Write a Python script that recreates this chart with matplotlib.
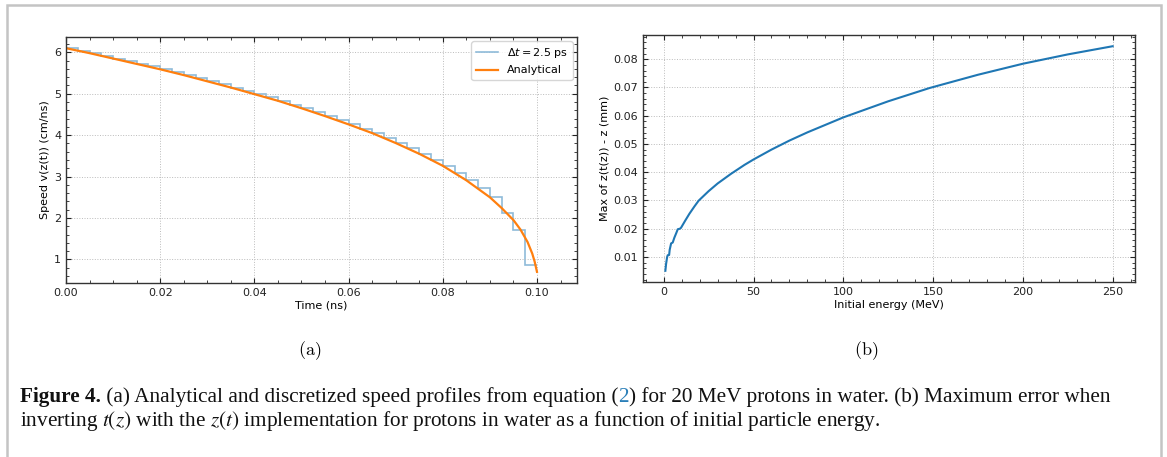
import numpy as np
import matplotlib
matplotlib.use("Agg")
from matplotlib import pyplot as plt
from matplotlib.patches import Rectangle

# (a) speed profile of 20 MeV protons in water
dt = 0.0025  # ns, 2.5 ps time step
step_speed = [6.10, 6.04, 5.98, 5.92, 5.85, 5.79, 5.72, 5.66, 5.59, 5.52,
              5.45, 5.38, 5.30, 5.23, 5.15, 5.07, 4.99, 4.91, 4.83, 4.74,
              4.65, 4.56, 4.46, 4.36, 4.26, 4.16, 4.05, 3.93, 3.81, 3.68,
              3.55, 3.41, 3.26, 3.09, 2.91, 2.72, 2.50, 2.12, 1.72, 0.86]
ana_time = [0.0, 0.005, 0.01, 0.015, 0.02, 0.025, 0.03, 0.035, 0.04, 0.045,
            0.05, 0.055, 0.06, 0.065, 0.07, 0.075, 0.08, 0.085, 0.09, 0.0925,
            0.095, 0.0965, 0.098, 0.099, 0.0995, 0.1]
ana_speed = [6.10, 5.98, 5.85, 5.72, 5.59, 5.45, 5.30, 5.15, 4.99, 4.83,
             4.65, 4.46, 4.26, 4.05, 3.81, 3.55, 3.26, 2.91, 2.50, 2.24,
             1.95, 1.72, 1.42, 1.14, 0.95, 0.70]

# (b) max inversion error vs initial energy
energy = [0.9, 1.3, 1.9, 2.2, 3.0, 3.3, 4.1, 5.0, 5.9, 7.0, 7.8, 9.0, 9.6,
          12, 14.3, 17, 19.4, 25, 30, 37.4, 45, 50, 60, 70, 80, 100, 125,
          148, 175, 200, 225, 250]
max_err = [0.0051, 0.0075, 0.0100, 0.0106, 0.0107, 0.0125, 0.0148, 0.0151,
           0.0168, 0.0185, 0.0198, 0.0200, 0.0203, 0.0229, 0.0253, 0.0278,
           0.0299, 0.0333, 0.0360, 0.0394, 0.0426, 0.0445, 0.0480, 0.0512,
           0.0541, 0.0594, 0.0651, 0.0698, 0.0745, 0.0784, 0.0817, 0.0846]

plt.rcParams["font.family"] = "DejaVu Sans"
plt.rcParams["font.size"] = 8

W, H = 1167, 457
fig = plt.figure(figsize=(W / 100, H / 100), dpi=100)

# light gray frame round the figure
fig.patches.append(Rectangle((7 / W, -0.05), (1161 - 7) / W, 1.05 - 5 / H,
                             transform=fig.transFigure, fill=False,
                             edgecolor="#c4c4c4", lw=1.8))


def style(ax):
    ax.minorticks_on()
    ax.tick_params(which="both", direction="in", top=True, right=True,
                   labelsize=8, colors="#222222")
    ax.tick_params(which="major", length=3.5, width=0.8)
    ax.tick_params(which="minor", length=2, width=0.6)
    ax.grid(True, which="major", ls=":", lw=0.7, color="#bbbbbb")
    for s in ax.spines.values():
        s.set_linewidth(1.0)
        s.set_color("#333333")


ax1 = fig.add_axes([66 / W, 1 - 283 / H, (577 - 66) / W, (283 - 37) / H])
edges = np.arange(len(step_speed) + 1) * dt
ax1.stairs(step_speed, edges, baseline=None, color="#1f77b4", alpha=0.5,
           lw=1.2, label=r"$\Delta t = 2.5$ ps")
ax1.plot(ana_time, ana_speed, color="#ff7f0e", lw=1.6, label="Analytical")
ax1.set_xlim(0, 0.1085)
ax1.set_xticks([0, 0.02, 0.04, 0.06, 0.08, 0.10])
ax1.set_xlabel("Time (ns)", labelpad=2)
ax1.set_ylabel("Speed v(z(t)) (cm/ns)", labelpad=3)
style(ax1)
ax1.legend(loc="upper right", fontsize=8, handlelength=2.0,
           borderaxespad=0.4)

ax2 = fig.add_axes([643 / W, 1 - 282 / H, (1135 - 643) / W, (282 - 35) / H])
ax2.plot(energy, max_err, color="#1f77b4", lw=1.5)
ax2.set_xlabel("Initial energy (MeV)", labelpad=2)
ax2.set_ylabel("Max of z(t(z)) - z (mm)", labelpad=3)
style(ax2)

# panel labels
fig.text(310 / W, 1 - 351 / H, r"$\mathrm{(a)}$", fontsize=13,
         math_fontfamily="cm", ha="center", va="center")
fig.text(866 / W, 1 - 351 / H, r"$\mathrm{(b)}$", fontsize=13,
         math_fontfamily="cm", ha="center", va="center")

# caption, built from pieces placed one after another
cap = dict(fontsize=15.3, family="Liberation Serif", math_fontfamily="stix",
           va="baseline")
renderer = fig.canvas.get_renderer()
line1 = [("Figure 4.", "#111111", "bold"),
         (" (a) Analytical and discretized speed profiles from equation (",
          "#111111", "normal"),
         ("2", "#2a7fb8", "normal"),
         (") for 20 MeV protons in water. (b) Maximum error when",
          "#111111", "normal")]
x = 20 / W
for txt, col, wt in line1:
    t = fig.text(x, 1 - 402 / H, txt, color=col, fontweight=wt, **cap)
    x = t.get_window_extent(renderer).x1 / W
fig.text(20 / W, 1 - 426 / H,
         r"inverting $t(z)$ with the $z(t)$ implementation for protons in water "
         r"as a function of initial particle energy.", color="#111111", **cap)

fig.savefig("out.png", dpi=100)
